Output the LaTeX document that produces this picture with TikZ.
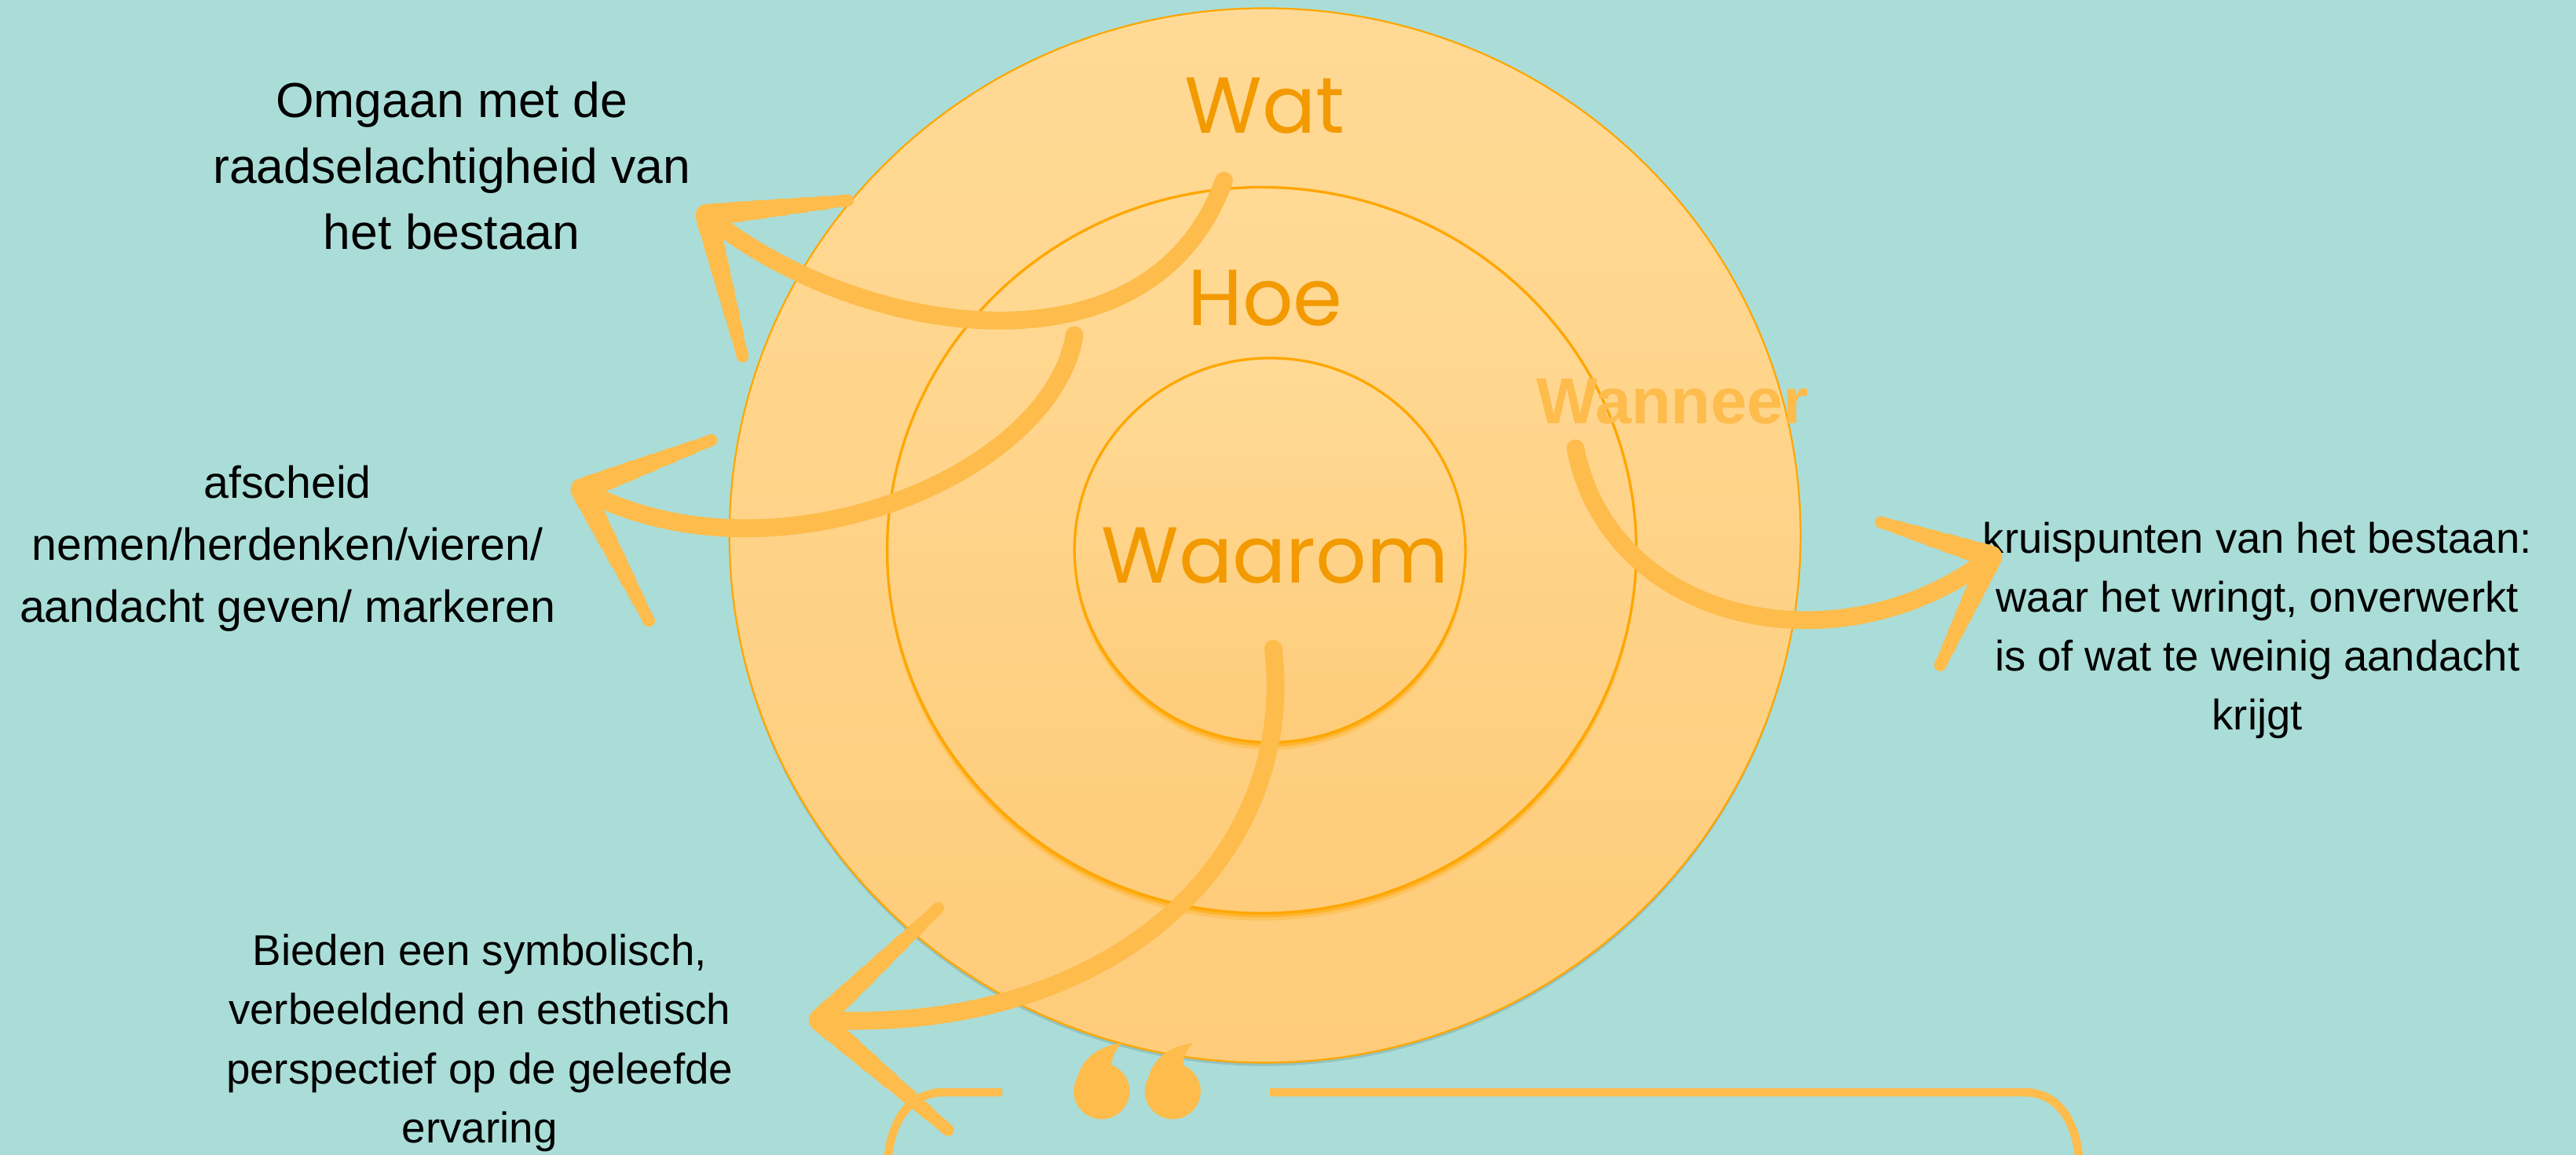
\documentclass[tikz,border=0pt]{standalone}
\usepackage{fontspec}
\usetikzlibrary{calc}
\newfontfamily\bodyfont{Liberation Sans}
\newfontfamily\ringfont{Poppins}
\definecolor{bgteal}{RGB}{170,221,216}
\definecolor{arroworange}{RGB}{253,188,76}
\definecolor{labelorange}{RGB}{242,154,0}
\definecolor{ringline}{RGB}{255,166,0}
\definecolor{ringtop}{RGB}{255,218,150}
\definecolor{ringbottom}{RGB}{254,204,122}

\begin{document}
\begin{tikzpicture}[x=0.02cm,y=-0.02cm,
  swoosh/.style={draw=arroworange,line width=6.2pt,line cap=round},
  frameline/.style={draw=arroworange,line width=2.9pt},
  caption/.style 2 args={align=center,inner sep=0pt,font=\bodyfont\fontsize{#1}{#2}\selectfont},
  ringlabel/.style={text=labelorange,inner sep=0pt,anchor=base,font=\ringfont\fontsize{27.5}{30}\selectfont}]
\fill[bgteal] (0,0) rectangle (1568,703);
\useasboundingbox (0,0) rectangle (1568,703);

\fill[black,opacity=.12] (770,328) ellipse [x radius=326,y radius=321];
\shade[top color=ringtop,bottom color=ringbottom] (770,326) ellipse [x radius=326,y radius=321];
\draw[ringline,line width=.6pt] (770,326) ellipse [x radius=326,y radius=321];

\foreach \cx/\cy/\rx/\ry in {768/335/228/221,773/335/119/117}{
  \fill[ringline,opacity=.25] (\cx,\cy+4.5) ellipse [x radius=\rx,y radius=\ry];
  \fill[ringline,opacity=.5] (\cx,\cy+2.5) ellipse [x radius=\rx,y radius=\ry];
  \shade[top color=ringtop,bottom color=ringbottom] (\cx,\cy) ellipse [x radius=\rx,y radius=\ry];
  \draw[ringline,line width=.9pt] (\cx,\cy) ellipse [x radius=\rx,y radius=\ry];
}

\node[ringlabel] (wat) at (770,81) {Wat};
\node[ringlabel] (hoe) at (770,198) {Hoe};
\node[ringlabel] (waarom) at (776,355) {Waarom};
\node[text=arroworange,inner sep=0pt,anchor=base,font=\bodyfont\bfseries\fontsize{22.5}{24}\selectfont] (wanneer) at (1018,258) {Wanneer};

\node[caption={17}{22.8}] (omgaan) at (275,101) {Omgaan met de\\raadselachtigheid van\\het bestaan};
\node[caption={15.6}{21.5}] (afscheid) at (175,334) {afscheid\\nemen/herdenken/vieren/\\aandacht geven/ markeren};
\node[caption={14.8}{20.4}] (kruispunten) at (1374,384) {kruispunten van het bestaan:\\waar het wringt, onverwerkt\\is of wat te weinig aandacht\\krijgt};
\node[caption={14.9}{20.5}] (bieden) at (292,635) {Bieden een symbolisch,\\verbeeldend en esthetisch\\perspectief op de geleefde\\ervaring};

\coordinate (watstart) at (745,110);
\coordinate (hoestart) at (654,204);
\coordinate (waaromstart) at (775,395);
\coordinate (wanneerstart) at (959,273);
\coordinate (omgaantip) at (430,131);
\coordinate (afscheidtip) at (354,298);
\coordinate (biedentip) at (499,621);
\coordinate (kruistip) at (1212,339);
\coordinate (omgaanbarbA) at (516,122);
\coordinate (omgaanbarbB) at (452,217);
\coordinate (afscheidbarbA) at (433,268);
\coordinate (afscheidbarbB) at (395,378);
\coordinate (biedenbarbA) at (571,553);
\coordinate (biedenbarbB) at (577,688);
\coordinate (kruisbarbA) at (1145,318);
\coordinate (kruisbarbB) at (1181,405);

\draw[swoosh] (watstart) .. controls (700,235) and (520,205) .. (omgaantip);
\draw[swoosh] (hoestart) .. controls (640,290) and (470,360) .. (afscheidtip);
\draw[swoosh] (waaromstart) .. controls (790,520) and (680,630) .. (biedentip);
\draw[swoosh] (wanneerstart) .. controls (980,380) and (1120,410) .. (kruistip);
\foreach \tip/\barb in {omgaantip/omgaanbarbA,omgaantip/omgaanbarbB,
    afscheidtip/afscheidbarbA,afscheidtip/afscheidbarbB,
    biedentip/biedenbarbA,biedentip/biedenbarbB,
    kruistip/kruisbarbA,kruistip/kruisbarbB}{
  \foreach \f/\w in {1/4.2,.85/4.8,.7/5.4,.55/6,.4/6.6,.25/7.1,.1/7.6}{
    \draw[arroworange,line width=\w pt,line cap=round] (\tip) -- ($(\tip)!\f!(\barb)$);
  }
}

\coordinate (frameleft) at (610,665);
\coordinate (frameright) at (773,665);
\draw[frameline] (frameleft) -- (575,665) .. controls (550,665) and (540,688) .. (540,715);
\draw[frameline] (frameright) -- (1232,665) .. controls (1256,665) and (1266,688) .. (1266,715);

\foreach \dx in {0,43.3}{
  \begin{scope}[shift={(\dx,0)}]
    \fill[arroworange] (676.9,648.6) arc[start angle=-68,end angle=210,radius=17]
      .. controls (659,644) and (669,637) .. (682.8,635)
      .. controls (679,639) and (676.5,644) .. cycle;
  \end{scope}
}
\end{tikzpicture}
\end{document}
